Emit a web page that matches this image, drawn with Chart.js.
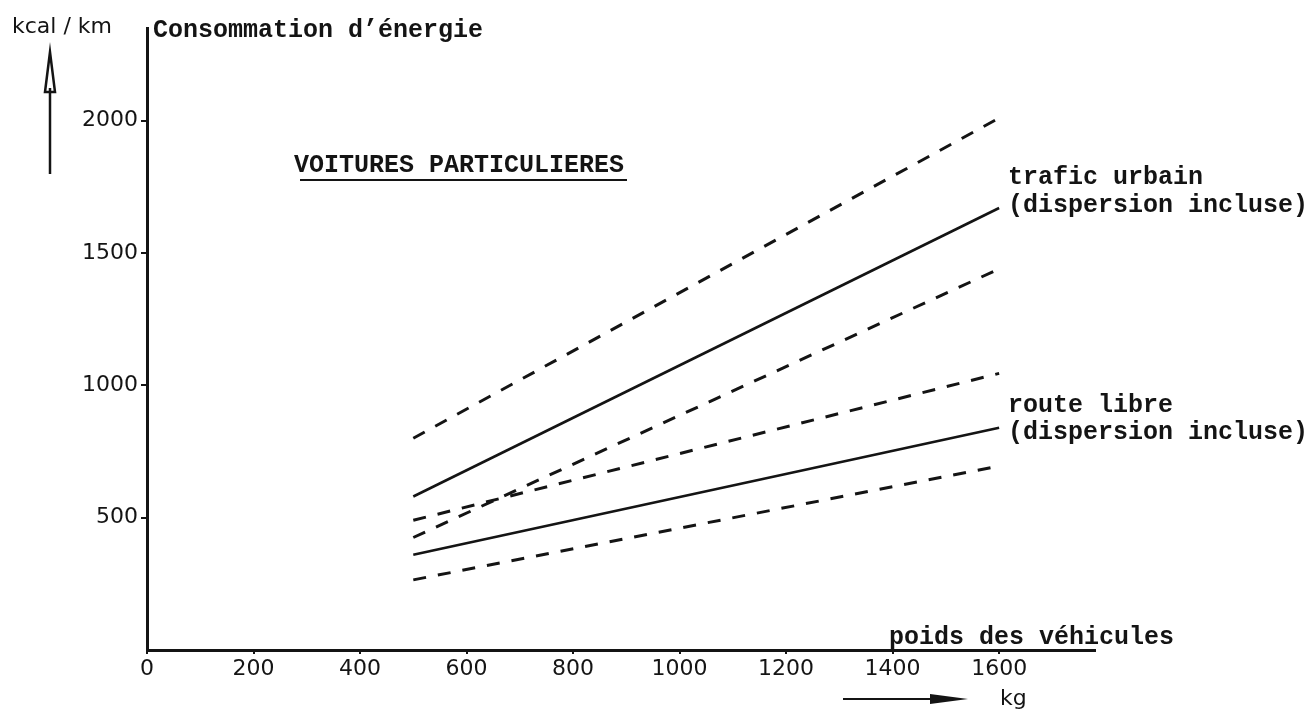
<!DOCTYPE html>
<html>
<head>
<meta charset="utf-8">
<title>Consommation d'énergie - voitures particulières</title>
<script src="https://cdn.jsdelivr.net/npm/chart.js@4/dist/chart.umd.min.js"></script>
<style>
  html, body { margin: 0; padding: 0; background: #fff; }
  canvas { display: block; }
</style>
</head>
<body>
<canvas id="chart" width="1315" height="713"></canvas>
<script>
// vehicle weight (kg) where the lines start and end
const weights = [500, 1600]

// kcal / km, urban traffic: upper bound, mean, lower bound
const urbanHigh = [800, 2010]
const urbanMid  = [580, 1670]
const urbanLow  = [425, 1440]

// kcal / km, open road: upper bound, mean, lower bound
const routeHigh = [490, 1045]
const routeMid  = [360, 840]
const routeLow  = [265, 695]

const xTicks = [0, 200, 400, 600, 800, 1000, 1200, 1400, 1600]
const yTicks = [500, 1000, 1500, 2000]

const INK = '#141414'
const MONO = '"Liberation Mono", "DejaVu Sans Mono", monospace'
const SANS = '"DejaVu Sans", "Liberation Sans", sans-serif'

const pts = ys => weights.map((x, i) => ({ x, y: ys[i] }))

function line(ys, dashed) {
  return {
    data: pts(ys),
    borderColor: INK,
    borderWidth: dashed ? 3 : 2.6,
    borderDash: dashed ? [13, 12] : [],
    pointRadius: 0,
    fill: false,
    tension: 0
  }
}

// text and arrows drawn by hand on the original figure
const decorations = {
  id: 'decorations',
  afterDraw(chart) {
    const c = chart.ctx
    c.save()
    c.fillStyle = INK
    c.strokeStyle = INK
    c.textBaseline = 'alphabetic'
    c.textAlign = 'left'

    c.font = `22px ${SANS}`
    c.fillText('kcal / km', 12, 33)

    c.font = `bold 25px ${MONO}`
    c.fillText('Consommation d\u2019énergie', 153, 37)

    // vertical arrow under the unit
    c.lineWidth = 2.5
    c.beginPath(); c.moveTo(50, 88); c.lineTo(50, 174); c.stroke()
    c.beginPath()
    c.moveTo(50, 52); c.lineTo(45, 92); c.lineTo(55, 92); c.closePath()
    c.stroke()

    c.font = `bold 25px ${MONO}`
    c.fillText('VOITURES PARTICULIERES', 294, 172)
    c.lineWidth = 2
    c.beginPath(); c.moveTo(300, 180); c.lineTo(627, 180); c.stroke()

    c.fillText('trafic urbain', 1008, 184)
    c.fillText('(dispersion incluse)', 1008, 212)
    c.fillText('route libre', 1008, 412)
    c.fillText('(dispersion incluse)', 1008, 439)

    c.fillText('poids des véhicules', 889, 644)

    // horizontal arrow before kg
    c.lineWidth = 2
    c.beginPath(); c.moveTo(843, 699); c.lineTo(935, 699); c.stroke()
    c.beginPath()
    c.moveTo(930, 694); c.lineTo(968, 699); c.lineTo(930, 704); c.closePath()
    c.fill()
    c.font = `22px ${SANS}`
    c.fillText('kg', 1000, 705)

    c.restore()
  }
}

new Chart(document.getElementById('chart').getContext('2d'), {
  type: 'line',
  data: {
    datasets: [
      line(urbanHigh, true),
      line(urbanMid, false),
      line(urbanLow, true),
      line(routeHigh, true),
      line(routeMid, false),
      line(routeLow, true)
    ]
  },
  options: {
    responsive: false,
    animation: false,
    devicePixelRatio: 1,
    layout: { padding: { left: 0, top: 28, right: 220, bottom: 0 } },
    plugins: {
      legend: { display: false },
      tooltip: { enabled: false },
      title: { display: false }
    },
    scales: {
      x: {
        type: 'linear',
        min: 0, max: 1780,
        afterBuildTicks: s => { s.ticks = xTicks.map(v => ({ value: v })) },
        afterFit: s => { s.height = 63 },
        border: { display: true, color: INK, width: 3 },
        grid: { display: true, drawOnChartArea: false, drawTicks: true, tickLength: 4, color: INK, lineWidth: 2 },
        ticks: { color: INK, font: { family: SANS, size: 22 }, padding: 2, maxRotation: 0, autoSkip: false, callback: v => String(v) }
      },
      y: {
        type: 'linear',
        min: 0, max: 2350,
        afterBuildTicks: s => { s.ticks = yTicks.map(v => ({ value: v })) },
        afterFit: s => { s.width = 147 },
        border: { display: true, color: INK, width: 3 },
        grid: { display: true, drawOnChartArea: false, drawTicks: true, tickLength: 6, color: INK, lineWidth: 2 },
        ticks: { color: INK, font: { family: SANS, size: 22 }, padding: 3, autoSkip: false, callback: v => String(v) }
      }
    }
  },
  plugins: [decorations]
})
</script>
</body>
</html>
